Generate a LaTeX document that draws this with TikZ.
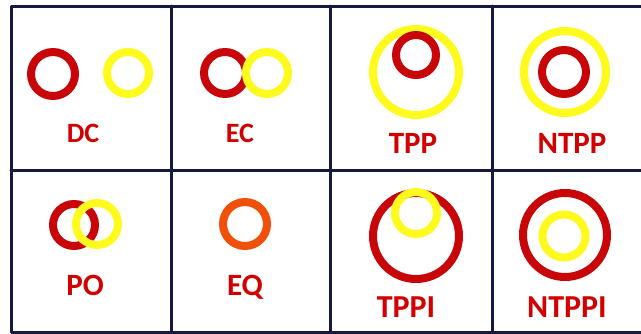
\documentclass[tikz,border=0pt]{standalone}
\usepackage{fontspec}
\setmainfont{Carlito}

\definecolor{ringred}{RGB}{200,6,10}
\definecolor{ringyellow}{RGB}{255,250,30}
\definecolor{ringorange}{RGB}{240,80,10}
\definecolor{labelred}{RGB}{210,0,0}
\definecolor{gridnavy}{RGB}{22,26,62}

\tikzset{
  ring/.style={circle, draw=#1, line width=8, inner sep=0pt},
  lbl/.style={text=labelred, anchor=base, inner sep=0pt,
    font=\fontsize{#1}{#1}\selectfont\bfseries},
  gridline/.style={draw=gridnavy, line width=3, line join=round, line cap=round}
}

\begin{document}
\begin{tikzpicture}[x=1pt, y=-1pt]
  \useasboundingbox (0,0) rectangle (641,333);

  % table frame and cell dividers
  \coordinate (tl) at (11,6);
  \coordinate (br) at (653,332);
  \draw[gridline] (tl) rectangle (br);
  \coordinate (v1t) at (171,6);   \coordinate (v1b) at (171,332);
  \coordinate (v2t) at (330,6);   \coordinate (v2b) at (330,332);
  \coordinate (v3t) at (492,6);   \coordinate (v3b) at (492,332);
  \coordinate (hl) at (11,170);   \coordinate (hr) at (653,170);
  \draw[gridline] (v1t) -- (v1b) (v2t) -- (v2b) (v3t) -- (v3b) (hl) -- (hr);

  % DC: disconnected
  \node[ring=ringred, minimum size=44] (dcA) at (53,74) {};
  \node[ring=ringyellow, minimum size=42] (dcB) at (128,73) {};
  \node[lbl=28] (dcL) at (83,142) {DC};

  % EC: externally connected
  \node[ring=ringred, minimum size=42] (ecA) at (225,73) {};
  \node[ring=ringyellow, minimum size=42] (ecB) at (267,73) {};
  \node[lbl=28] (ecL) at (240,142) {EC};

  % TPP: tangential proper part
  \node[ring=ringyellow, minimum size=86] (tppB) at (416,72) {};
  \node[ring=ringred, minimum size=40] (tppA) at (416,55) {};
  \node[lbl=31] (tppL) at (413,153) {TPP};

  % NTPP: non-tangential proper part
  \node[ring=ringyellow, minimum size=82] (ntppB) at (565,72) {};
  \node[ring=ringred, minimum size=44] (ntppA) at (564,72) {};
  \node[lbl=31] (ntppL) at (572,153) {NTPP};

  % PO: partial overlap
  \node[ring=ringred, minimum size=42] (poA) at (74,225) {};
  \node[ring=ringyellow, minimum size=42] (poB) at (97,224) {};
  \node[lbl=31] (poL) at (85,295) {PO};

  % EQ: equal
  \node[ring=ringorange, minimum size=44] (eqA) at (245,224) {};
  \node[lbl=31] (eqL) at (245,295) {EQ};

  % TPPI: inverse of TPP
  \node[ring=ringred, minimum size=86] (tppiA) at (416,236) {};
  \node[ring=ringyellow, minimum size=42] (tppiB) at (416,213) {};
  \node[lbl=32] (tppiL) at (406,317) {TPPI};

  % NTPPI: inverse of NTPP
  \node[ring=ringred, minimum size=84] (ntppiA) at (565,235) {};
  \node[ring=ringyellow, minimum size=43] (ntppiB) at (564,236) {};
  \node[lbl=32] (ntppiL) at (567,317) {NTPPI};
\end{tikzpicture}
\end{document}
